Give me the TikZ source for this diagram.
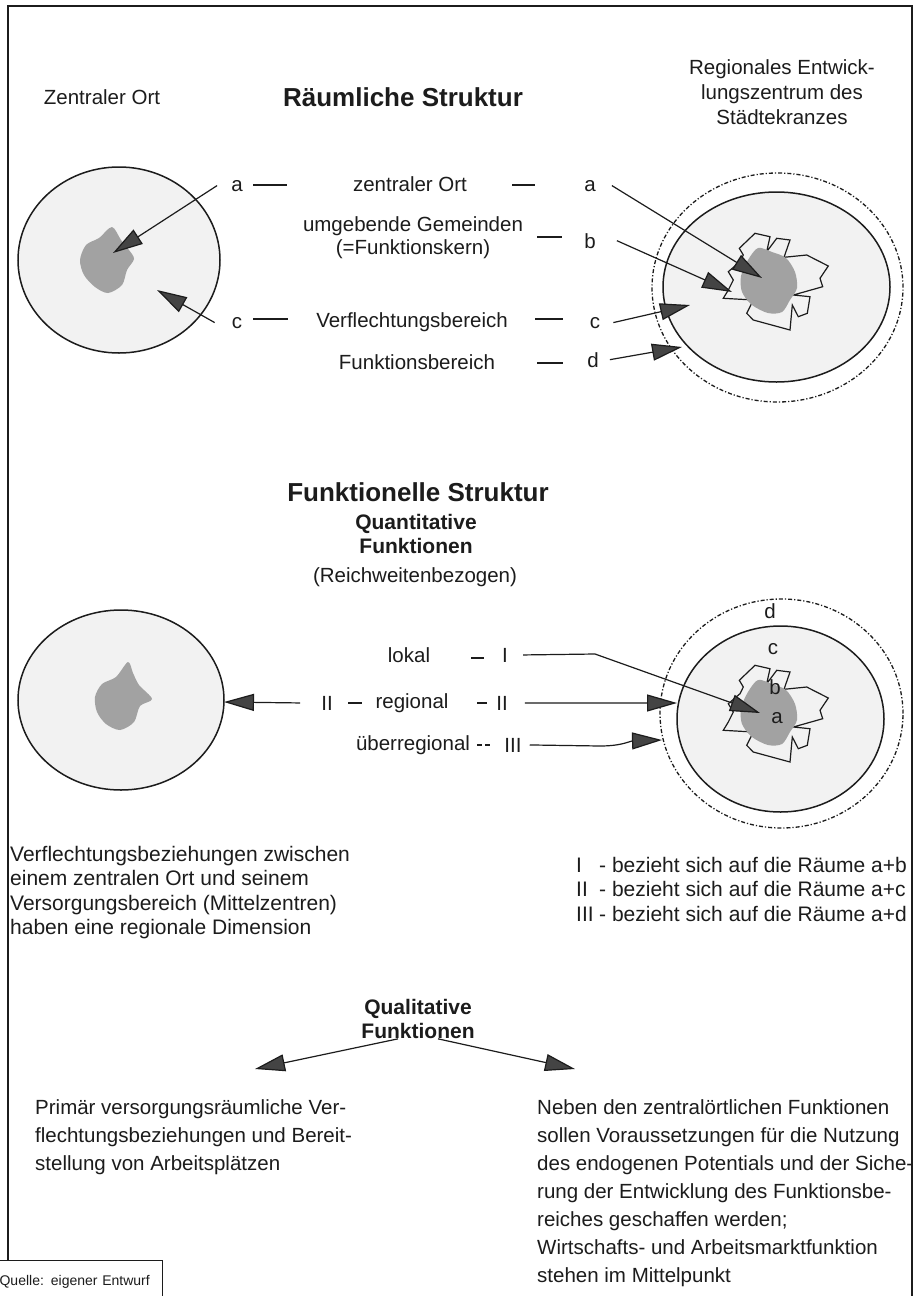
\documentclass[tikz,border=0pt]{standalone}
\usepackage{fontspec}
\setmainfont{Liberation Sans}
\usetikzlibrary{arrows.meta}
\definecolor{ink}{HTML}{1C1C1C}
\definecolor{headgray}{HTML}{444444}
\definecolor{areagray}{HTML}{F2F2F2}
\definecolor{blobgray}{HTML}{A2A2A2}
\begin{document}
\begin{tikzpicture}[x=1pt,y=-1pt,
  lab/.style={font=\fontsize{20.5}{24}\selectfont, inner sep=0pt, text=ink},
  labb/.style={font=\fontsize{21}{28}\selectfont, inner sep=0pt, text=ink},
  boldlab/.style={font=\fontsize{21}{24}\selectfont\bfseries, inner sep=0pt, text=ink},
  title/.style={font=\fontsize{26}{30}\selectfont\bfseries, inner sep=0pt, text=ink},
  tick/.style={draw=ink, line width=1.3pt},
  arr/.style={draw=ink, line width=1.2pt, -{Triangle[length=30pt,width=17pt,fill=headgray]}},
  ring/.style={draw=ink, line width=1.5pt, fill=areagray},
  outer/.style={draw=ink, line width=1.3pt, dash pattern=on 4pt off 2pt on 1.2pt off 2pt},
  kern/.style={draw=ink, line width=1.2pt, fill=areagray, line join=miter},
  blob/.style={fill=blobgray},
  frame/.style={draw=ink, line width=2.2pt}
]
\useasboundingbox (0,0) rectangle (919,1296);
\fill[white] (0,0) rectangle (919,1296);
\draw[frame] (8,1260) -- (8,6) -- (912,6) -- (912,1300);

% ---------- top: spatial structure ----------
\draw[ring] (119,260) ellipse [x radius=101pt, y radius=93pt];
\fill[blob] plot[smooth cycle, tension=0.5] coordinates {(112,227) (121,240) (129,250) (134,259) (127,270) (122,285) (108,293) (95,287) (84,275) (80,260) (86,245) (99,238)};

\draw[outer] (777.5,287.5) ellipse [x radius=125.5pt, y radius=114.5pt];
\draw[ring] (776.5,287) ellipse [x radius=113.5pt, y radius=95pt];
\draw[kern] (739.3,248.3) -- (755,233.3) -- (770,236.7) -- (766.7,251.7) -- (776.7,238.3) -- (790,240) -- (784,257.3) -- (806.7,255) -- (828.3,266) -- (820,278.3) -- (822.7,286.7) -- (793.3,295) -- (810,296.7) -- (807.3,313.3) -- (798.3,316.7) -- (792.3,305) -- (790,330) -- (753.3,320) -- (746.7,313.3) -- (753.3,300) -- (723.3,298.3) -- (728.3,290) -- (733.3,280) -- (728.3,271.7) -- (740,261.7) -- (743.3,255) -- cycle;
\fill[blob] plot[smooth cycle, tension=0.5] coordinates {(758,248) (772,252) (786,258) (795,272) (797,288) (790,300) (782,312) (768,313) (752,305) (742,292) (741,276) (748,260)};

\node[lab, anchor=base] (hZO) at (102,104) {Zentraler Ort};
\node[title, anchor=base] (hRS) at (403,106) {Räumliche Struktur};
\node[lab, anchor=north, align=center, font=\fontsize{20.5}{25}\selectfont] (hREZ) at (782,59) {Regionales Entwick-\\lungszentrum des\\Städtekranzes};

\node[lab, anchor=base] (aL) at (237,191) {a};
\draw[tick] (253,185) -- (287,185);
\node[lab, anchor=base] (zO) at (410,191) {zentraler Ort};
\draw[tick] (512,185) -- (535,185);
\node[lab, anchor=base] (aR) at (590,191) {a};

\node[lab, anchor=north, align=center, font=\fontsize{20.5}{23}\selectfont] (uG) at (413,216) {umgebende Gemeinden\\(=Funktionskern)};
\draw[tick] (537,237) -- (562,237);
\node[lab, anchor=base] (bR) at (590,248) {b};

\node[lab, anchor=base] (cL) at (237,328) {c};
\draw[tick] (253,319) -- (288,319);
\node[lab, anchor=base] (vB) at (412,327) {Verflechtungsbereich};
\draw[tick] (535,319) -- (563,319);
\node[lab, anchor=base] (cR) at (595,328) {c};

\node[lab, anchor=base] (fB) at (417,369) {Funktionsbereich};
\draw[tick] (537,363) -- (563,363);
\node[lab, anchor=base] (dR) at (593,367) {d};

\coordinate (tipA1) at (113,253);
\coordinate (tipC1) at (157,290);
\coordinate (tipA2) at (762,278);
\coordinate (tipB2) at (732,292);
\coordinate (tipC2) at (690,305);
\coordinate (tipD2) at (682,347);
\draw[arr] ([xshift=-14pt]aL.west) -- (tipA1);
\draw[arr] ([xshift=-17pt]cL.west) -- (tipC1);
\draw[arr] ([xshift=16pt]aR.east) -- (tipA2);
\draw[arr] ([xshift=21pt]bR.east) -- (tipB2);
\draw[arr] ([xshift=13pt]cR.east) -- (tipC2);
\draw[arr] ([xshift=11pt]dR.east) -- (tipD2);

% ---------- middle: functional structure ----------
\node[title, anchor=base] (hFS) at (418,501) {Funktionelle Struktur};
\node[boldlab, anchor=north, align=center] (hQF) at (416,514) {Quantitative\\Funktionen};
\node[lab, anchor=base] (hRB) at (415,582) {(Reichweitenbezogen)};

\draw[ring] (121,700) ellipse [x radius=103pt, y radius=90pt];
\fill[blob] plot[smooth cycle, tension=0.5] coordinates {(128,662) (133,673) (139,685) (152,699) (140,706) (134,722) (120,730) (106,724) (97,712) (95,697) (102,684) (116,677)};

\draw[outer] (781.5,713.5) ellipse [x radius=121.5pt, y radius=114.5pt];
\draw[ring] (780.5,719) ellipse [x radius=103.5pt, y radius=93pt];
\begin{scope}[shift={(0,432)}]
\draw[kern] (739.3,248.3) -- (755,233.3) -- (770,236.7) -- (766.7,251.7) -- (776.7,238.3) -- (790,240) -- (784,257.3) -- (806.7,255) -- (828.3,266) -- (820,278.3) -- (822.7,286.7) -- (793.3,295) -- (810,296.7) -- (807.3,313.3) -- (798.3,316.7) -- (792.3,305) -- (790,330) -- (753.3,320) -- (746.7,313.3) -- (753.3,300) -- (723.3,298.3) -- (728.3,290) -- (733.3,280) -- (728.3,271.7) -- (740,261.7) -- (743.3,255) -- cycle;
\fill[blob] plot[smooth cycle, tension=0.5] coordinates {(758,248) (772,252) (786,258) (795,272) (797,288) (790,300) (782,312) (768,313) (752,305) (742,292) (741,276) (748,260)};
\end{scope}
\node[lab, anchor=base] (md) at (770,618) {d};
\node[lab, anchor=base] (mc) at (773,654) {c};
\node[lab, anchor=base] (mb) at (775,694) {b};
\node[lab, anchor=base] (ma) at (777,723) {a};

\node[lab, anchor=base] (lok) at (409,662) {lokal};
\draw[tick] (471,658) -- (484,658);
\node[lab, anchor=base] (rI) at (505,662) {I};

\node[lab, anchor=base] (lII) at (327,710) {II};
\draw[tick] (348,703) -- (362,703);
\node[lab, anchor=base] (reg) at (412,708) {regional};
\draw[tick] (477,703) -- (487,703);
\node[lab, anchor=base] (rII) at (502,710) {II};

\node[lab, anchor=base] (ueb) at (413,750) {überregional};
\draw[tick] (477,745) -- (482,745);
\draw[tick] (485,745) -- (490,745);
\node[lab, anchor=base] (rIII) at (513,752) {III};

\coordinate (bendI) at (595,654);
\coordinate (tipI) at (760,713);
\coordinate (tipL) at (224,702);
\coordinate (tipII) at (677,703);
\coordinate (bendIII) at (600,746);
\coordinate (tipIII) at (662,740);
\draw[arr] ([xshift=15pt]rI.east) -- (bendI) -- (tipI);
\draw[arr] ([xshift=-21pt]lII.west) -- (tipL);
\draw[arr] ([xshift=17pt]rII.east) -- (tipII);
\draw[arr] ([xshift=8pt]rIII.east) -- (bendIII) .. controls (622,746) and (630,741) .. (tipIII);

% ---------- bottom ----------
\node[labb, anchor=north west, align=left, font=\fontsize{21}{24.5}\selectfont] (vbz) at (10,846) {Verflechtungsbeziehungen zwischen\\einem zentralen Ort und seinem\\Versorgungsbereich (Mittelzentren)\\haben eine regionale Dimension};

\node[labb, anchor=base west, font=\fontsize{21}{24}\selectfont] (lg1) at (576,872) {\makebox[23pt][l]{I}- bezieht sich auf die Räume a+b};
\node[labb, anchor=base west, font=\fontsize{21}{24}\selectfont] (lg2) at (576,896.5) {\makebox[23pt][l]{II}- bezieht sich auf die Räume a+c};
\node[labb, anchor=base west, font=\fontsize{21}{24}\selectfont] (lg3) at (576,921) {\makebox[23pt][l]{III}- bezieht sich auf die Räume a+d};

\node[boldlab, anchor=north, align=center] (hQual) at (418,999) {Qualitative\\Funktionen};
\coordinate (tipQL) at (255,1069);
\coordinate (tipQR) at (575,1069);
\draw[arr] ([xshift=-20pt]hQual.south) -- (tipQL);
\draw[arr] ([xshift=20pt]hQual.south) -- (tipQR);

\node[labb, anchor=north west, align=left, font=\fontsize{20.5}{28}\selectfont] (prim) at (35,1099) {Primär versorgungsräumliche Ver-\\flechtungsbeziehungen und Bereit-\\stellung von Arbeitsplätzen};
\node[labb, anchor=north west, align=left, font=\fontsize{20.5}{28}\selectfont] (neben) at (537,1099) {Neben den zentralörtlichen Funktionen\\sollen Voraussetzungen für die Nutzung\\des endogenen Potentials und der Siche-\\rung der Entwicklung des Funktionsbe-\\reiches geschaffen werden;\\Wirtschafts- und Arbeitsmarktfunktion\\stehen im Mittelpunkt};

\node[draw=ink, line width=1.2pt, anchor=north west, minimum width=166pt, minimum height=42pt, font=\fontsize{14}{16}\selectfont, text=ink, inner xsep=1pt, align=left, text width=160pt] (quelle) at (-4,1260) {Quelle: eigener Entwurf};
\end{tikzpicture}
\end{document}
